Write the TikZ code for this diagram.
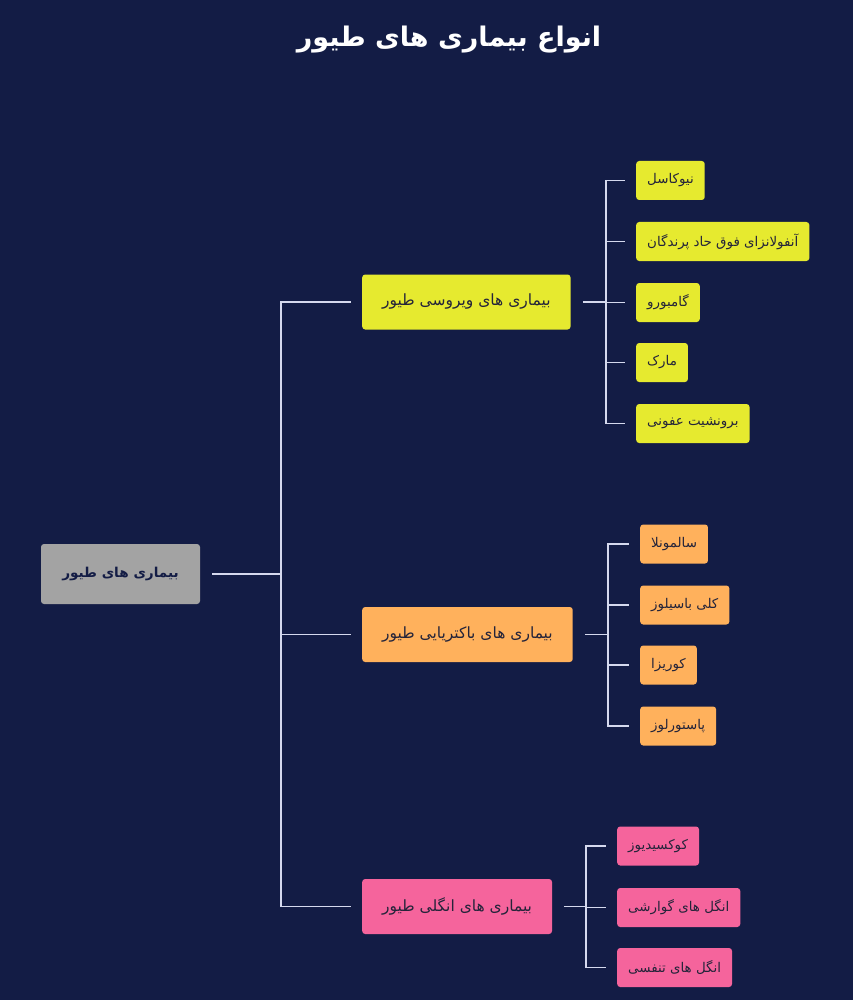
\documentclass[tikz,border=0pt]{standalone}
\usepackage{fontspec}
\usepackage{tikz}
\usepackage{xcolor}
\usetikzlibrary{shapes,arrows}
\TeXXeTstate=1
\newfontfamily\farsi[Script=Arabic]{DejaVu Sans}
\newcommand{\fatext}[1]{\farsi\beginR #1\endR}
\definecolor{bgnavy}{HTML}{131C45}
\definecolor{linkc}{HTML}{D5D9EE}
\definecolor{inkdark}{HTML}{24243A}
\definecolor{rootgray}{HTML}{A3A3A3}
\definecolor{viryellow}{HTML}{E6EA2F}
\definecolor{bacorange}{HTML}{FFB15C}
\definecolor{parpink}{HTML}{F5649C}
\tikzstyle{rootbox} = [rectangle, fill=rootgray, text=bgnavy, rounded corners=3pt,
minimum width=159pt, minimum height=60pt, font=\fontsize{13.6}{16}\selectfont\bfseries]
\tikzstyle{block} = [rectangle, text=inkdark, rounded corners=3pt, anchor=west,
inner xsep=20pt, minimum height=55pt, font=\fontsize{15.5}{18}\selectfont]
\tikzstyle{leaf} = [rectangle, text=inkdark, rounded corners=3pt, anchor=west,
inner xsep=11pt, minimum height=39pt, font=\fontsize{13.4}{16}\selectfont]
\tikzstyle{line} = [draw=linkc, line width=1.5pt]
\tikzstyle{stem} = [line, shorten <=12pt]
\tikzstyle{twig} = [line, shorten >=11pt]

\begin{document}
\begin{tikzpicture}[x=1pt, y=-1pt]
        \fill [bgnavy] (0,0) rectangle (853,1000);
        \useasboundingbox (0,0) rectangle (853,1000);

        \node [text=white, font=\fontsize{27}{32}\selectfont\bfseries] (title) at (449,40) {\fatext{انواع بیماری های طیور}};

        \node [rootbox] (root) at (120.5,574) {\fatext{بیماری های طیور}};

        \node [block, fill=viryellow] (vir) at (362,302) {\fatext{بیماری های ویروسی طیور}};
        \node [block, fill=bacorange] (bac) at (362,634.5) {\fatext{بیماری های باکتریایی طیور}};
        \node [block, fill=parpink] (par) at (362,906.5) {\fatext{بیماری های انگلی طیور}};

        % viral
        \node [leaf, fill=viryellow] (vir1) at (636,180.5) {\fatext{نیوکاسل}};
        \node [leaf, fill=viryellow] (vir2) at (636,241.5) {\fatext{آنفولانزای فوق حاد پرندگان}};
        \node [leaf, fill=viryellow] (vir3) at (636,302.5) {\fatext{گامبورو}};
        \node [leaf, fill=viryellow] (vir4) at (636,362.5) {\fatext{مارک}};
        \node [leaf, fill=viryellow] (vir5) at (636,423.5) {\fatext{برونشیت عفونی}};

        % bacterial
        \node [leaf, fill=bacorange] (bac1) at (640,544) {\fatext{سالمونلا}};
        \node [leaf, fill=bacorange] (bac2) at (640,605) {\fatext{کلی باسیلوز}};
        \node [leaf, fill=bacorange] (bac3) at (640,665) {\fatext{کوریزا}};
        \node [leaf, fill=bacorange] (bac4) at (640,726) {\fatext{پاستورلوز}};

        % parasitic
        \node [leaf, fill=parpink] (par1) at (617,846) {\fatext{کوکسیدیوز}};
        \node [leaf, fill=parpink] (par2) at (617,907.5) {\fatext{انگل های گوارشی}};
        \node [leaf, fill=parpink] (par3) at (617,967.5) {\fatext{انگل های تنفسی}};

        \coordinate (jroot) at (281,574);
        \coordinate (jvir) at (606,302);
        \coordinate (jbac) at (608,634.5);
        \coordinate (jpar) at (586,906.5);

        \path [stem] (root) -- (jroot);
        \path [twig] (jroot) |- (vir);
        \path [twig] (jroot) |- (bac);
        \path [twig] (jroot) |- (par);

        \path [stem] (vir) -- (jvir);
        \foreach \k in {1,...,5} \path [twig] (jvir) |- (vir\k);
        \path [stem] (bac) -- (jbac);
        \foreach \k in {1,...,4} \path [twig] (jbac) |- (bac\k);
        \path [stem] (par) -- (jpar);
        \foreach \k in {1,...,3} \path [twig] (jpar) |- (par\k);
      \end{tikzpicture}
\end{document}
